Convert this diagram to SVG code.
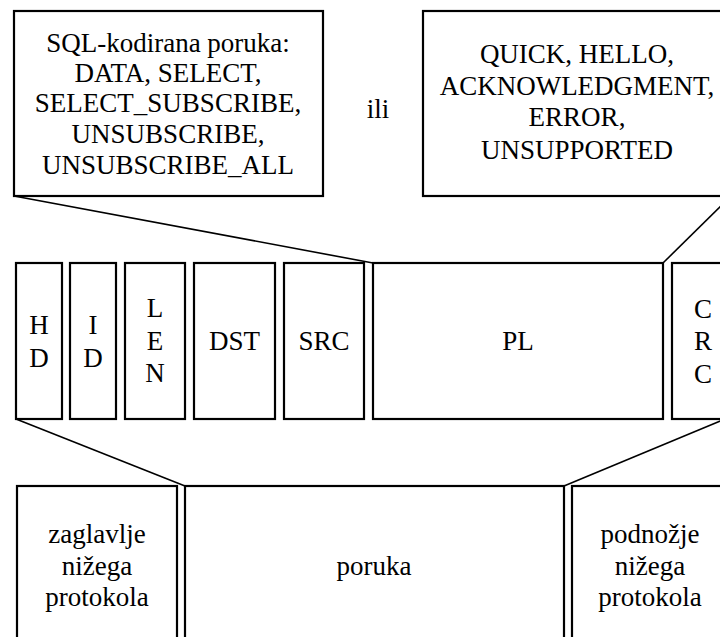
<svg xmlns="http://www.w3.org/2000/svg" width="720" height="637" viewBox="0 0 720 637">
<style>
.box{fill:#fff;stroke:#000;stroke-width:2.2}
.conn{stroke:#000;stroke-width:1.6}
.lbl{font-family:'Liberation Serif','Times New Roman',serif;font-size:27px;fill:#000;text-anchor:middle}
</style>
<rect x="0" y="0" width="720" height="637" fill="#fff"/>
<g id="connectors" class="conn">
<line x1="14" y1="196" x2="373" y2="263"/>
<line x1="731" y1="196" x2="663" y2="263"/>
<line x1="16" y1="419" x2="185" y2="486"/>
<line x1="725" y1="419" x2="564" y2="486"/>
</g>
<g id="sql" class="lbl">
<rect class="box" x="14" y="11" width="309" height="185"/>
<text x="168" y="52">SQL-kodirana poruka:</text>
<text x="168" y="82">DATA, SELECT,</text>
<text x="168" y="112">SELECT_SUBSCRIBE,</text>
<text x="168" y="143">UNSUBSCRIBE,</text>
<text x="168" y="174">UNSUBSCRIBE_ALL</text>
</g>
<g id="ili" class="lbl"><text x="378" y="118">ili</text></g>
<g id="ctrl" class="lbl">
<rect class="box" x="423" y="11" width="308" height="185"/>
<text x="577" y="63">QUICK, HELLO,</text>
<text x="577" y="95">ACKNOWLEDGMENT,</text>
<text x="577" y="126">ERROR,</text>
<text x="577" y="159">UNSUPPORTED</text>
</g>
<g id="hd" class="lbl">
<rect class="box" x="16" y="263" width="46" height="156"/>
<text x="39" y="334">H</text><text x="39" y="367">D</text>
</g>
<g id="id" class="lbl">
<rect class="box" x="70" y="263" width="46" height="156"/>
<text x="93" y="334">I</text><text x="93" y="367">D</text>
</g>
<g id="len" class="lbl">
<rect class="box" x="125" y="263" width="60" height="156"/>
<text x="155" y="317">L</text><text x="155" y="350">E</text><text x="155" y="382">N</text>
</g>
<g id="dst" class="lbl">
<rect class="box" x="194" y="263" width="81" height="156"/>
<text x="234.5" y="350">DST</text>
</g>
<g id="src" class="lbl">
<rect class="box" x="284" y="263" width="80" height="156"/>
<text x="324" y="350">SRC</text>
</g>
<g id="pl" class="lbl">
<rect class="box" x="373" y="263" width="290" height="156"/>
<text x="518" y="350">PL</text>
</g>
<g id="crc" class="lbl">
<rect class="box" x="672" y="263" width="53" height="156"/>
<text x="703" y="318">C</text><text x="703" y="350">R</text><text x="703" y="383">C</text>
</g>
<g id="zaglavlje" class="lbl">
<rect class="box" x="17" y="486" width="160" height="170"/>
<text x="97" y="543">zaglavlje</text>
<text x="97" y="575">ni&#382;ega</text>
<text x="97" y="606">protokola</text>
</g>
<g id="poruka" class="lbl">
<rect class="box" x="185" y="486" width="379" height="170"/>
<text x="374" y="575">poruka</text>
</g>
<g id="podnozje" class="lbl">
<rect class="box" x="572" y="486" width="170" height="170"/>
<text x="650" y="543">podno&#382;je</text>
<text x="650" y="575">ni&#382;ega</text>
<text x="650" y="606">protokola</text>
</g>
</svg>
